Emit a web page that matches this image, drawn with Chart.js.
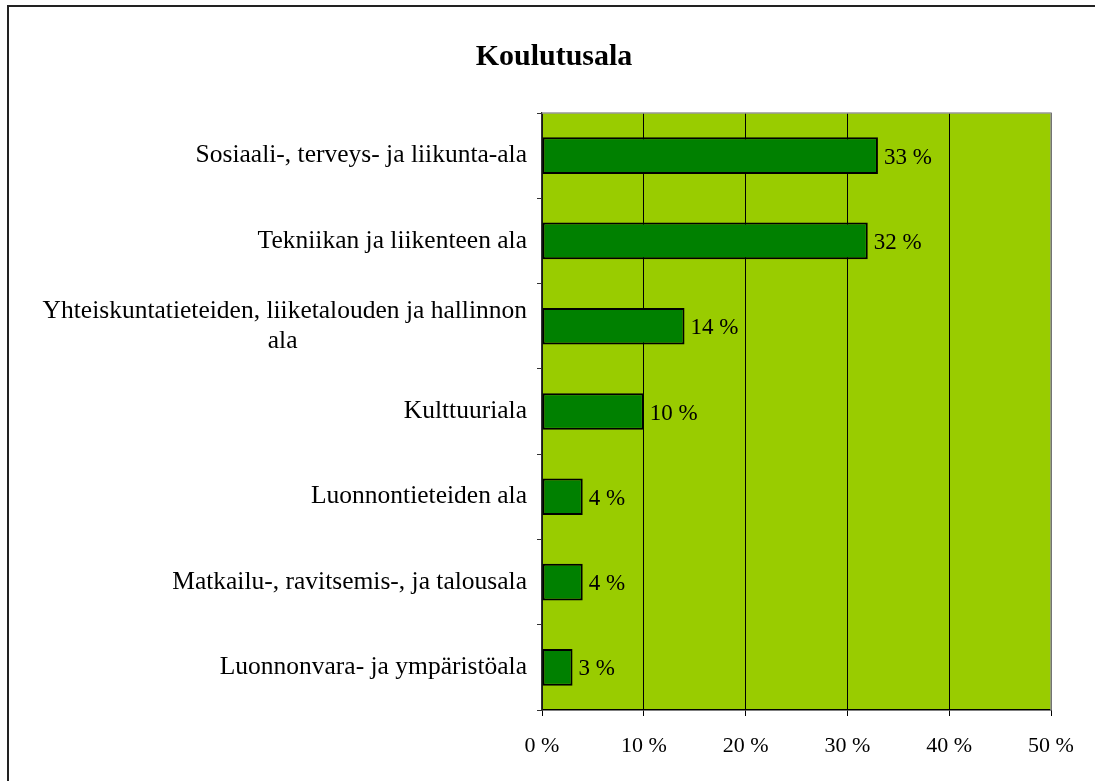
<!DOCTYPE html>
<html>
<head>
<meta charset="utf-8">
<script src="https://cdn.jsdelivr.net/npm/chart.js@4.4.1/dist/chart.umd.min.js"></script>
<style>
body { margin: 0; background: #fff; }
#wrap { position: relative; width: 1095px; height: 781px; overflow: hidden; }
#frame { position: absolute; left: 7px; top: 5px; width: 1200px; height: 900px; border: 2px solid #222; pointer-events: none; }
</style>
</head>
<body>
<div id="wrap">
<canvas id="chart" width="1095" height="781"></canvas>
<div id="frame"></div>
</div>
<script>
const pad = '\u00a0'.repeat(36);
const categories = [
  'Sosiaali-, terveys- ja liikunta-ala',
  'Tekniikan ja liikenteen ala',
  ['Yhteiskuntatieteiden, liiketalouden ja hallinnon', 'ala' + pad],
  'Kulttuuriala',
  'Luonnontieteiden ala',
  'Matkailu-, ravitsemis-, ja talousala',
  'Luonnonvara- ja ympäristöala'
];
const shares = [33, 32, 14, 10, 4, 4, 3];
const title = 'Koulutusala';

const serif = "'Liberation Serif', 'Times New Roman', serif";

// plot background, grey top/right border, title
const plotBg = {
  id: 'plotBg',
  beforeDraw(chart) {
    const a = chart.chartArea, c = chart.ctx;
    c.save();
    c.fillStyle = '#99CC00';
    c.fillRect(a.left, a.top, a.right - a.left, a.bottom - a.top);
    c.fillStyle = '#000';
    c.font = 'bold 30px ' + serif;
    c.textAlign = 'center';
    c.textBaseline = 'middle';
    c.fillText(title, 554, 57);
    c.restore();
  },
  afterDatasetsDraw(chart) {
    const a = chart.chartArea, c = chart.ctx;
    c.save();
    c.strokeStyle = '#999';
    c.lineWidth = 1.5;
    c.beginPath();
    c.moveTo(a.left, a.top);
    c.lineTo(a.right, a.top);
    c.lineTo(a.right, a.bottom);
    c.stroke();
    c.restore();
  }
};

// value labels right of the bars
const valueLabels = {
  id: 'valueLabels',
  afterDatasetsDraw(chart) {
    const c = chart.ctx;
    const meta = chart.getDatasetMeta(0);
    c.save();
    c.font = '23px ' + serif;
    c.fillStyle = '#000';
    c.textAlign = 'left';
    c.textBaseline = 'middle';
    meta.data.forEach((bar, i) => {
      c.fillText(shares[i] + ' %', bar.x + 6, bar.y + 2);
    });
    c.restore();
  }
};

new Chart(document.getElementById('chart'), {
  type: 'bar',
  data: {
    labels: categories,
    datasets: [{
      data: shares,
      backgroundColor: '#008000',
      borderColor: '#000',
      borderWidth: 2,
      borderSkipped: false,
      barPercentage: 0.43,
      categoryPercentage: 1
    }]
  },
  options: {
    indexAxis: 'y',
    responsive: false,
    animation: false,
    layout: { padding: { top: 113, right: 44, left: 0, bottom: 0 } },
    plugins: {
      legend: { display: false },
      tooltip: { enabled: false },
      title: { display: false }
    },
    scales: {
      x: {
        min: 0,
        max: 50,
        ticks: {
          stepSize: 10,
          color: '#000',
          font: { family: serif, size: 22 },
          padding: 17,
          callback: v => v + ' %'
        },
        grid: { color: '#000', lineWidth: 1, tickLength: 6 },
        border: { color: '#000', width: 1.5 },
        afterFit(scale) { scale.height = 71; }
      },
      y: {
        ticks: {
          color: '#000',
          font: { family: serif, size: 25.5 },
          padding: 10
        },
        grid: { offset: true, drawOnChartArea: false, color: '#333', tickLength: 5 },
        border: { color: '#333', width: 1.5 },
        afterFit(scale) { scale.width = 542; }
      }
    }
  },
  plugins: [plotBg, valueLabels]
});
</script>
</body>
</html>
